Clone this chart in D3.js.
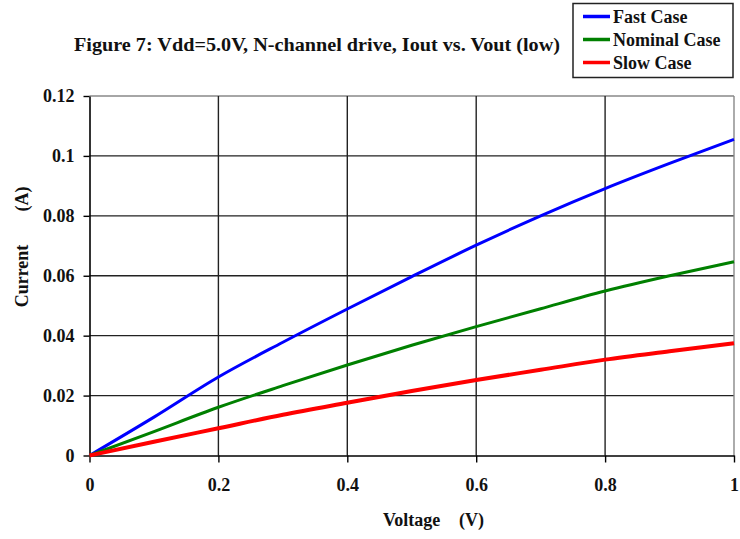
<!DOCTYPE html>
<html>
<head>
<meta charset="utf-8">
<script src="https://cdn.jsdelivr.net/npm/d3@7/dist/d3.min.js"></script>
<style>
  html, body { margin: 0; padding: 0; background: #fff; }
  svg { display: block; }
  text { font-family: "Liberation Serif", "Times New Roman", serif; font-weight: bold; fill: #111; }
</style>
</head>
<body>
<svg id="chart" width="740" height="539"></svg>
<script>
// Output voltage (V) sample points
const voltage = [0, 0.1, 0.2, 0.3, 0.4, 0.5, 0.6, 0.7, 0.8, 0.9, 1.0];
// Output current (A) for each process corner
const fastCase    = [0, 0.0128, 0.0262, 0.0378, 0.0489, 0.0597, 0.0702, 0.0800, 0.0891, 0.0975, 0.1055];
const nominalCase = [0, 0.0080, 0.0161, 0.0233, 0.0302, 0.0368, 0.0430, 0.0490, 0.0549, 0.0600, 0.0647];
const slowCase    = [0, 0.0046, 0.0091, 0.0136, 0.0176, 0.0215, 0.0252, 0.0286, 0.0320, 0.0348, 0.0375];

const xTicks = [0, 0.2, 0.4, 0.6, 0.8, 1];
const yTicks = [0, 0.02, 0.04, 0.06, 0.08, 0.1, 0.12];
const seriesNames = ["Fast Case", "Nominal Case", "Slow Case"];
const seriesColors = ["#0000ff", "#008000", "#ff0000"];
const seriesWidths = [3, 3, 4];
const seriesValues = [fastCase, nominalCase, slowCase];

const svg = d3.select("#chart");
const plot = { left: 89.5, right: 734, top: 96, bottom: 455.5 };

const x = d3.scaleLinear().domain([0, 1]).range([plot.left, plot.right]);
const y = d3.scaleLinear().domain([0, 0.12]).range([plot.bottom, plot.top]);

// Title
svg.append("text")
  .attr("x", 317).attr("y", 51)
  .attr("text-anchor", "middle")
  .attr("textLength", 486)
  .attr("lengthAdjust", "spacingAndGlyphs")
  .style("font-size", "18.5px")
  .text("Figure 7: Vdd=5.0V, N-channel drive, Iout vs. Vout (low)");

// Gridlines
const grid = svg.append("g");
grid.selectAll("line.h").data(yTicks.filter(d => d > 0)).join("line")
  .attr("x1", plot.left).attr("x2", plot.right)
  .attr("y1", d => y(d)).attr("y2", d => y(d))
  .attr("stroke", d => d === 0.12 ? "#888" : "#222")
  .attr("stroke-width", 1.4);
grid.selectAll("line.v").data(xTicks.filter(d => d > 0)).join("line")
  .attr("y1", plot.top).attr("y2", plot.bottom)
  .attr("x1", d => x(d)).attr("x2", d => x(d))
  .attr("stroke", d => d === 1 ? "#888" : "#222")
  .attr("stroke-width", 1.4);

// Axes
const yAxis = d3.axisLeft(y).tickValues(yTicks).tickFormat(d => String(+d.toFixed(2)))
  .tickSizeInner(6).tickSizeOuter(0).tickPadding(9);
const gy = svg.append("g").attr("transform", `translate(${plot.left},0)`).call(yAxis);
const xAxis = d3.axisBottom(x).tickValues(xTicks).tickFormat(d => String(+d.toFixed(1)))
  .tickSizeInner(7).tickSizeOuter(0).tickPadding(16);
const gx = svg.append("g").attr("transform", `translate(0,${plot.bottom})`).call(xAxis);
[gx, gy].forEach(g => {
  g.select(".domain").attr("stroke", "#000").attr("stroke-width", 1.6);
  g.selectAll(".tick line").attr("stroke", "#000").attr("stroke-width", 1.4);
  g.selectAll(".tick text")
    .style("font-family", '"Liberation Serif", serif')
    .style("font-weight", "bold")
    .style("font-size", "18px")
    .attr("fill", "#111");
});

// Axis titles
svg.append("text")
  .attr("x", 383).attr("y", 526)
  .style("font-size", "18px")
  .text("Voltage");
svg.append("text")
  .attr("x", 459).attr("y", 526)
  .style("font-size", "18px")
  .text("(V)");
svg.append("text")
  .attr("transform", "translate(28,276) rotate(-90)")
  .attr("text-anchor", "middle")
  .style("font-size", "18px")
  .text("Current");
svg.append("text")
  .attr("transform", "translate(28,199) rotate(-90)")
  .attr("text-anchor", "middle")
  .style("font-size", "18px")
  .text("(A)");

// Curves
const line = d3.line()
  .x((d, i) => x(voltage[i]))
  .y(d => y(d))
  .curve(d3.curveMonotoneX);
svg.append("g").selectAll("path").data(seriesValues).join("path")
  .attr("d", d => line(d))
  .attr("fill", "none")
  .attr("stroke", (d, i) => seriesColors[i])
  .attr("stroke-width", (d, i) => seriesWidths[i])
  .attr("stroke-linejoin", "round");

// Legend
const legend = svg.append("g");
legend.append("rect")
  .attr("x", 573).attr("y", 3.5).attr("width", 160).attr("height", 74)
  .attr("fill", "#fff").attr("stroke", "#222").attr("stroke-width", 1.5);
const items = legend.selectAll("g.item").data(seriesNames).join("g")
  .attr("transform", (d, i) => `translate(0,${16.5 + i * 23})`);
items.append("line")
  .attr("x1", 583).attr("x2", 610).attr("y1", 0).attr("y2", 0)
  .attr("stroke", (d, i) => seriesColors[i]).attr("stroke-width", 3.5);
items.append("text")
  .attr("x", 613).attr("y", 6)
  .style("font-size", "18px")
  .text(d => d);
</script>
</body>
</html>
